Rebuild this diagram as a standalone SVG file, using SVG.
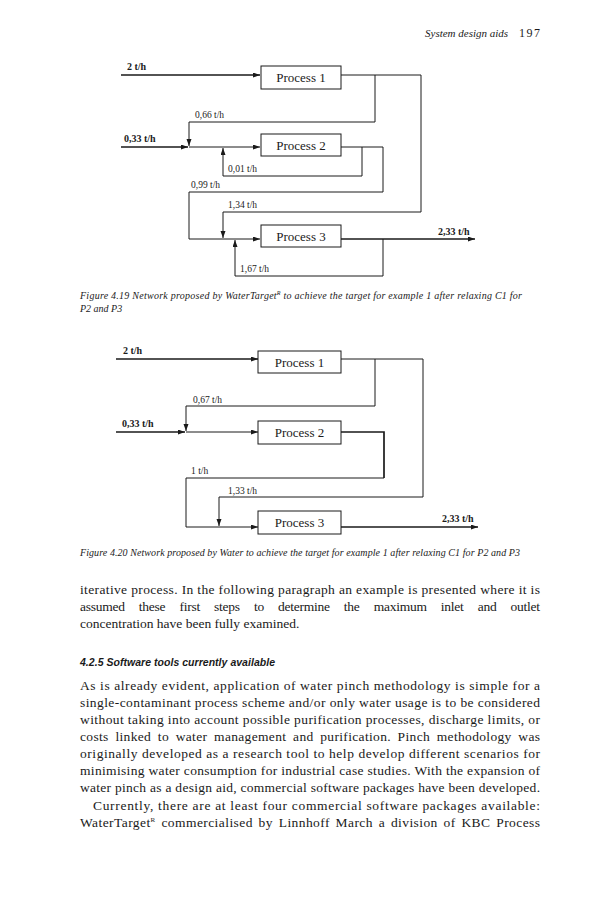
<svg xmlns="http://www.w3.org/2000/svg" width="595" height="900" viewBox="0 0 595 900">
<style>
.box{fill:#fff;stroke:#1a1a1a;stroke-width:1}
.ln{fill:none;stroke:#1a1a1a;stroke-width:1}
.bold{stroke-width:1.7}
.pt{font-family:"Liberation Serif",serif;font-size:13px;text-anchor:middle;fill:#1a1a1a}
.lb{font-family:"Liberation Serif",serif;font-size:9.5px;fill:#1a1a1a}
.lbb{font-family:"Liberation Serif",serif;font-size:10px;font-weight:bold;fill:#1a1a1a}
.cap{font-family:"Liberation Serif",serif;font-size:10px;font-style:italic;fill:#1a1a1a}
.body{font-family:"Liberation Serif",serif;font-size:13.5px;fill:#1a1a1a}
.head{font-family:"Liberation Sans",sans-serif;font-size:10.5px;font-weight:bold;font-style:italic;fill:#1a1a1a}
</style>
<defs>
<marker id="ar" markerUnits="userSpaceOnUse" markerWidth="8" markerHeight="6" refX="7" refY="2.5" orient="auto">
<path d="M0,0 L7,2.5 L0,5 z" fill="#1a1a1a"/>
</marker>
</defs>
<rect width="595" height="900" fill="#fff"/>

<text x="425" y="37" class="cap" style="font-size:11px">System design aids</text>
<text x="519" y="37" class="body" style="font-size:12px" textLength="21" lengthAdjust="spacing">197</text>

<!-- Figure 4.19 -->
<g id="fig19-connectors">
<path class="ln bold" d="M121,75 H260" marker-end="url(#ar)"/>
<path class="ln" d="M341,75 H421 V212 H223 V238" marker-end="url(#ar)"/>
<path class="ln" d="M375,75 V122 H189 V146" marker-end="url(#ar)"/>
<path class="ln bold" d="M121,147 H188" marker-end="url(#ar)"/>
<path class="ln" d="M189,147 H260" marker-end="url(#ar)"/>
<path class="ln" d="M341,147 H383 V192 H189 V239"/>
<path class="ln" d="M362,147 V176 H223 V148" marker-end="url(#ar)"/>
<path class="ln" d="M189,239 H260" marker-end="url(#ar)"/>
<path class="ln bold" d="M341,239 H475" marker-end="url(#ar)"/>
<path class="ln" d="M383,239 V276 H235 V240" marker-end="url(#ar)"/>
<text x="127" y="70" class="lbb">2 t/h</text>
<text x="195" y="118" class="lb">0,66 t/h</text>
<text x="124" y="142" class="lbb">0,33 t/h</text>
<text x="228" y="172" class="lb">0,01 t/h</text>
<text x="191" y="188" class="lb">0,99 t/h</text>
<text x="228" y="208" class="lb">1,34 t/h</text>
<text x="438" y="235" class="lbb">2,33 t/h</text>
<text x="240" y="272" class="lb">1,67 t/h</text>
</g>
<g id="fig19-p1"><rect class="box" x="261" y="66" width="80" height="23"/><text x="301" y="82" class="pt">Process 1</text></g>
<g id="fig19-p2"><rect class="box" x="261" y="134" width="80" height="22"/><text x="301" y="150" class="pt">Process 2</text></g>
<g id="fig19-p3"><rect class="box" x="261" y="225" width="80" height="22"/><text x="301" y="241" class="pt">Process 3</text></g>

<text x="80" y="299" class="cap" textLength="442" lengthAdjust="spacing">Figure 4.19    Network proposed by WaterTarget<tspan dy="-4" style="font-size:6px">R</tspan><tspan dy="4"> to achieve the target for example 1 after relaxing C1 for</tspan></text>
<text x="80" y="312" class="cap">P2 and P3</text>

<!-- Figure 4.20 -->
<g id="fig20-connectors">
<path class="ln bold" d="M116,359 H258" marker-end="url(#ar)"/>
<path class="ln" d="M341,359 H423 V497 H219 V526" marker-end="url(#ar)"/>
<path class="ln" d="M375,359 V406 H186 V431" marker-end="url(#ar)"/>
<path class="ln bold" d="M116,432 H185" marker-end="url(#ar)"/>
<path class="ln" d="M186,432 H258" marker-end="url(#ar)"/>
<path class="ln bold" d="M341,432 H384 V478"/>
<path class="ln" d="M384,478 H186 V527"/>
<path class="ln" d="M186,527 H258" marker-end="url(#ar)"/>
<path class="ln bold" d="M341,527 H478" marker-end="url(#ar)"/>
<text x="123" y="354" class="lbb">2 t/h</text>
<text x="193" y="403" class="lb">0,67 t/h</text>
<text x="122" y="427" class="lbb">0,33 t/h</text>
<text x="191" y="474" class="lb">1 t/h</text>
<text x="228" y="494" class="lb">1,33 t/h</text>
<text x="442" y="522" class="lbb">2,33 t/h</text>
</g>
<g id="fig20-p1"><rect class="box" x="258" y="351" width="83" height="22"/><text x="299.5" y="367" class="pt">Process 1</text></g>
<g id="fig20-p2"><rect class="box" x="258" y="421" width="83" height="23"/><text x="299.5" y="437" class="pt">Process 2</text></g>
<g id="fig20-p3"><rect class="box" x="258" y="511" width="83" height="23"/><text x="299.5" y="527" class="pt">Process 3</text></g>

<text x="80" y="556" class="cap" textLength="440" lengthAdjust="spacing">Figure 4.20    Network proposed by Water to achieve the target for example 1 after relaxing C1 for P2 and P3</text>

<!-- Body text -->
<text x="80" y="594" class="body" textLength="460" lengthAdjust="spacing">iterative process. In the following paragraph an example is presented where it is</text>
<text x="80" y="611" class="body" textLength="460" lengthAdjust="spacing" word-spacing="11">assumed these first steps to determine the maximum inlet and outlet</text>
<text x="80" y="628" class="body">concentration have been fully examined.</text>
<text x="80" y="666" class="head" textLength="195" lengthAdjust="spacing">4.2.5 Software tools currently available</text>
<text x="80" y="690" class="body" textLength="460" lengthAdjust="spacing">As is already evident, application of water pinch methodology is simple for a</text>
<text x="80" y="707" class="body" textLength="460" lengthAdjust="spacing">single-contaminant process scheme and/or only water usage is to be considered</text>
<text x="80" y="724" class="body" textLength="460" lengthAdjust="spacing">without taking into account possible purification processes, discharge limits, or</text>
<text x="80" y="741" class="body" textLength="460" lengthAdjust="spacing" word-spacing="3">costs linked to water management and purification. Pinch methodology was</text>
<text x="80" y="758" class="body" textLength="460" lengthAdjust="spacing">originally developed as a research tool to help develop different scenarios for</text>
<text x="80" y="775" class="body" textLength="460" lengthAdjust="spacing">minimising water consumption for industrial case studies. With the expansion of</text>
<text x="80" y="792" class="body" textLength="460" lengthAdjust="spacing">water pinch as a design aid, commercial software packages have been developed.</text>
<text x="93" y="810" class="body" textLength="447" lengthAdjust="spacing">Currently, there are at least four commercial software packages available:</text>
<text x="80" y="827" class="body" textLength="460" lengthAdjust="spacing" word-spacing="2">WaterTarget<tspan dy="-5" style="font-size:7px">R</tspan><tspan dy="5"> commercialised by Linnhoff March a division of KBC Process</tspan></text>
</svg>
